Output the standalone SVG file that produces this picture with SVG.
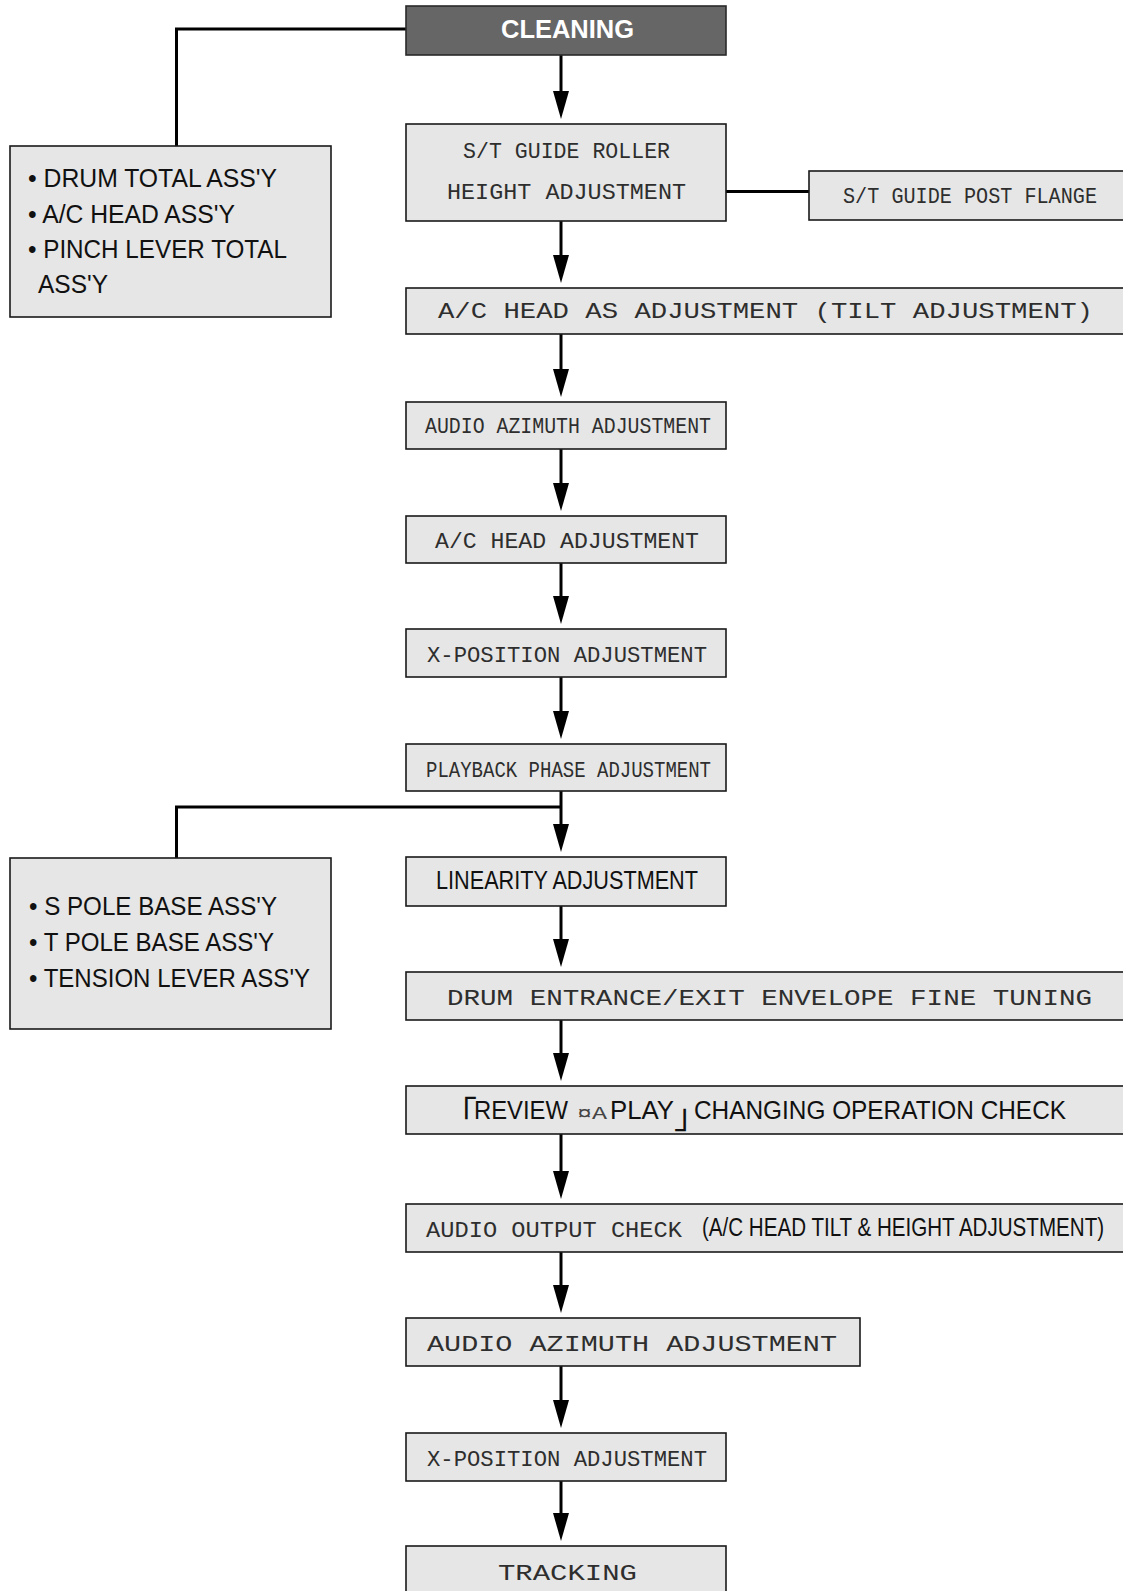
<svg xmlns="http://www.w3.org/2000/svg" width="1123" height="1591" viewBox="0 0 1123 1591">
<style>
.box{fill:#e6e6e6;stroke:#1a1a1a;stroke-width:1.6}
.dark{fill:#666666;stroke:#2a2a2a;stroke-width:1.6}
.mono{font-family:"Liberation Mono","DejaVu Sans Mono",monospace;fill:#2e2e2e;font-size:22px}
.sans{font-family:"Liberation Sans",Arial,sans-serif;fill:#111;font-size:25px}
.wire{fill:none;stroke:#000;stroke-width:3}
.cjk{font-family:"Noto Sans CJK JP",sans-serif;font-size:34px}
</style>
<defs>
<marker id="ah" markerUnits="userSpaceOnUse" viewBox="0 0 28 16" markerWidth="28" markerHeight="16" refX="8" refY="8" orient="auto">
<path d="M0,0 L28,8 L0,16 Z" fill="#000"/>
</marker>
</defs>
<rect width="1123" height="1591" fill="#fff"/>

<g id="connectors">
<path class="wire" d="M406,29 H176.5 V146"/>
<path class="wire" d="M726,191.5 H809"/>
<path class="wire" d="M561,807 H176.5 V858"/>
<path class="wire" marker-end="url(#ah)" d="M561,55 V99"/>
<path class="wire" marker-end="url(#ah)" d="M561,221 V263"/>
<path class="wire" marker-end="url(#ah)" d="M561,334 V377"/>
<path class="wire" marker-end="url(#ah)" d="M561,449 V491"/>
<path class="wire" marker-end="url(#ah)" d="M561,563 V604"/>
<path class="wire" marker-end="url(#ah)" d="M561,677 V719"/>
<path class="wire" marker-end="url(#ah)" d="M561,791 V832"/>
<path class="wire" marker-end="url(#ah)" d="M561,906 V947"/>
<path class="wire" marker-end="url(#ah)" d="M561,1020 V1061"/>
<path class="wire" marker-end="url(#ah)" d="M561,1134 V1179"/>
<path class="wire" marker-end="url(#ah)" d="M561,1252 V1293"/>
<path class="wire" marker-end="url(#ah)" d="M561,1366 V1408"/>
<path class="wire" marker-end="url(#ah)" d="M561,1481 V1521"/>
</g>

<g id="n-cleaning">
<rect class="dark" x="406" y="6" width="320" height="49"/>
<text x="501" y="38" font-family="Liberation Sans,Arial,sans-serif" font-weight="bold" font-size="26" fill="#fff" textLength="133" lengthAdjust="spacingAndGlyphs">CLEANING</text>
</g>

<g id="n-parts1">
<rect class="box" x="10" y="146" width="321" height="171"/>
<text class="sans" x="28" y="187" textLength="249" lengthAdjust="spacingAndGlyphs">• DRUM TOTAL ASS'Y</text>
<text class="sans" x="28" y="223" textLength="207" lengthAdjust="spacingAndGlyphs">• A/C HEAD ASS'Y</text>
<text class="sans" x="28" y="258" textLength="259" lengthAdjust="spacingAndGlyphs">• PINCH LEVER TOTAL</text>
<text class="sans" x="38" y="293" textLength="70" lengthAdjust="spacingAndGlyphs">ASS'Y</text>
</g>

<g id="n-guide-roller">
<rect class="box" x="406" y="124" width="320" height="97"/>
<text class="mono" x="463" y="158" textLength="207" lengthAdjust="spacingAndGlyphs">S/T GUIDE ROLLER</text>
<text class="mono" x="447" y="199" textLength="239" lengthAdjust="spacingAndGlyphs">HEIGHT ADJUSTMENT</text>
</g>

<g id="n-guide-post">
<rect class="box" x="809" y="171" width="330" height="49"/>
<text class="mono" x="843" y="203" textLength="254" lengthAdjust="spacingAndGlyphs">S/T GUIDE POST FLANGE</text>
</g>

<g id="n-ac-head-as">
<rect class="box" x="406" y="288" width="730" height="46"/>
<text class="mono" x="438" y="318" font-size="23" textLength="655" lengthAdjust="spacingAndGlyphs">A/C HEAD AS ADJUSTMENT (TILT ADJUSTMENT)</text>
</g>

<g id="n-azimuth1">
<rect class="box" x="406" y="402" width="320" height="47"/>
<text class="mono" x="425" y="433" textLength="286" lengthAdjust="spacingAndGlyphs">AUDIO AZIMUTH ADJUSTMENT</text>
</g>

<g id="n-ac-head">
<rect class="box" x="406" y="516" width="320" height="47"/>
<text class="mono" x="435" y="548" textLength="264" lengthAdjust="spacingAndGlyphs">A/C HEAD ADJUSTMENT</text>
</g>

<g id="n-xpos1">
<rect class="box" x="406" y="629" width="320" height="48"/>
<text class="mono" x="427" y="661.5" textLength="280" lengthAdjust="spacingAndGlyphs">X-POSITION ADJUSTMENT</text>
</g>

<g id="n-playback">
<rect class="box" x="406" y="744" width="320" height="47"/>
<text class="mono" x="426" y="776.5" textLength="285" lengthAdjust="spacingAndGlyphs">PLAYBACK PHASE ADJUSTMENT</text>
</g>

<g id="n-linearity">
<rect class="box" x="406" y="857" width="320" height="49"/>
<text class="sans" x="436" y="889" font-size="26" textLength="262" lengthAdjust="spacingAndGlyphs">LINEARITY ADJUSTMENT</text>
</g>

<g id="n-parts2">
<rect class="box" x="10" y="858" width="321" height="171"/>
<text class="sans" x="29" y="915" textLength="248" lengthAdjust="spacingAndGlyphs">• S POLE BASE ASS'Y</text>
<text class="sans" x="29" y="951" textLength="245" lengthAdjust="spacingAndGlyphs">• T POLE BASE ASS'Y</text>
<text class="sans" x="29" y="986.5" textLength="281" lengthAdjust="spacingAndGlyphs">• TENSION LEVER ASS'Y</text>
</g>

<g id="n-drum">
<rect class="box" x="406" y="972" width="730" height="48"/>
<text class="mono" x="447" y="1005" font-size="23.5" textLength="645" lengthAdjust="spacingAndGlyphs">DRUM ENTRANCE/EXIT ENVELOPE FINE TUNING</text>
</g>

<g id="n-review">
<rect class="box" x="406" y="1086" width="730" height="48"/>
<text class="sans" x="474" y="1118.5"><tspan class="cjk" x="443" y="1126" letter-spacing="-5">「</tspan><tspan x="474" y="1118.5" textLength="94" lengthAdjust="spacingAndGlyphs">REVIEW</tspan><tspan x="577" y="1118.5" font-family="Liberation Mono,monospace" font-size="19" fill="#444" textLength="30" lengthAdjust="spacingAndGlyphs">¤A</tspan><tspan x="610" y="1118.5" textLength="64" lengthAdjust="spacingAndGlyphs">PLAY</tspan><tspan class="cjk" x="674" y="1128" letter-spacing="-20">」</tspan><tspan x="694" y="1118.5" textLength="372" lengthAdjust="spacingAndGlyphs">CHANGING OPERATION CHECK</tspan></text>
</g>

<g id="n-audio-output">
<rect class="box" x="406" y="1204" width="730" height="48"/>
<text class="mono" x="426" y="1236.5" textLength="256" lengthAdjust="spacingAndGlyphs">AUDIO OUTPUT CHECK</text>
<text class="sans" transform="matrix(0.85 0 0 1 0 0)" x="825.9" y="1236.5" font-size="24" textLength="473" lengthAdjust="spacingAndGlyphs">(A/C HEAD TILT &amp; HEIGHT ADJUSTMENT)</text>
</g>

<g id="n-azimuth2">
<rect class="box" x="406" y="1318" width="454" height="48"/>
<text class="mono" x="427" y="1351" textLength="410" lengthAdjust="spacingAndGlyphs">AUDIO AZIMUTH ADJUSTMENT</text>
</g>

<g id="n-xpos2">
<rect class="box" x="406" y="1433" width="320" height="48"/>
<text class="mono" x="427" y="1465.5" textLength="280" lengthAdjust="spacingAndGlyphs">X-POSITION ADJUSTMENT</text>
</g>

<g id="n-tracking">
<rect class="box" x="406" y="1546" width="320" height="60"/>
<text class="mono" x="498" y="1580" textLength="139" lengthAdjust="spacingAndGlyphs">TRACKING</text>
</g>
</svg>
